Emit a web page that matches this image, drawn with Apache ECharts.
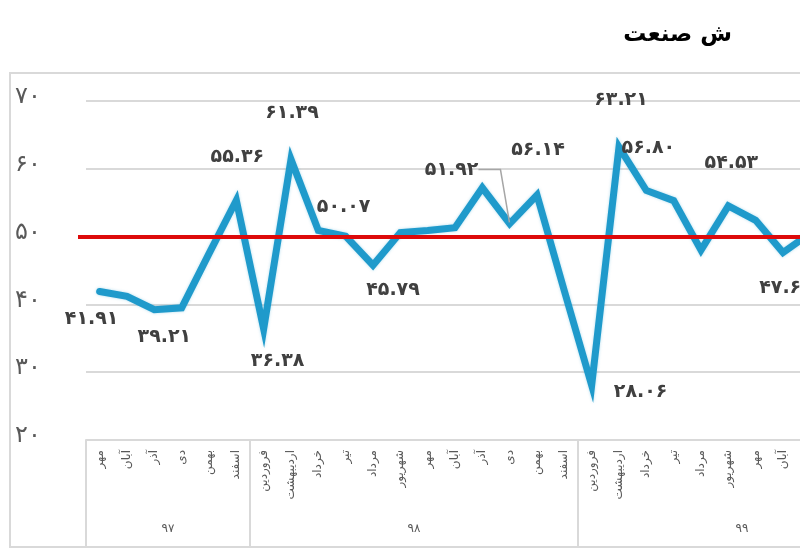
<!DOCTYPE html>
<html><head><meta charset="utf-8">
<script src="https://cdn.jsdelivr.net/npm/echarts@6/dist/echarts.min.js"></script>
<style>html,body{margin:0;padding:0;background:#fff}#c{width:800px;height:557px}</style>
</head><body><div id="c"></div>
<script>
// ---- data ----
const months97 = ['مهر','آبان','آذر','دی','بهمن','اسفند'];
const months98 = ['فروردین','اردیبهشت','خرداد','تیر','مرداد','شهریور','مهر','آبان','آذر','دی','بهمن','اسفند'];
const months99 = ['فروردین','اردیبهشت','خرداد','تیر','مرداد','شهریور','مهر','آبان','آذر','دی','بهمن','اسفند'];
const yearLabels = ['۹۷','۹۸','۹۹'];
const pmiValues = [41.91, 41.2, 39.21, 39.5, 47.5, 55.36,
  36.38, 61.39, 50.9, 50.07, 45.79, 50.6, 50.9, 51.3, 57.2, 51.92, 56.14, 42.0,
  28.06, 63.21, 56.80, 55.3, 48.0, 54.53, 52.4, 47.65, 50.5];
const labelledIdx = [0, 2, 5, 6, 7, 9, 10, 15, 16, 18, 19, 20, 23, 25];
const threshold = 50;
const yMin = 20, yMax = 70, yStep = 10;
const titleText = 'ش صنعت';

// ---- helpers / styles ----
const toFa = s => String(s).replace(/[0-9]/g, d => '۰۱۲۳۴۵۶۷۸۹'[+d]);
const categories = months97.concat(months98, months99);
const groups = [months97.length, months98.length, months99.length];
const groupCenters = [];
{ let acc = 0; groups.forEach(n => { groupCenters.push(acc + n / 2); acc += n; }); }
const groupBounds = [];
{ let acc = 0; groups.forEach(n => { groupBounds.push(acc); acc += n; }); }

const labelPlace = {0:[-8,28],2:[10,27],5:[1,-43],6:[14,32],7:[1,-46],9:[-2,-29],10:[20,25],
  15:[-58,-54],16:[1,-45],18:[49,7],19:[2,-47],20:[2,-42],23:[3,-43],25:[3,36]};

const FONT = 'DejaVu Sans';
const gridCol = '#d9d9d9';
const blue = '#1f9acb';
const red = '#dd0a0a';

const lineData = pmiValues.map((v, i) => {
  if (labelledIdx.indexOf(i) >= 0) {
    const item = { value: v, label: { show: true } };
    if (i === 15) item.labelLine = { show: true, length2: 22, lineStyle: { color: '#a6a6a6', width: 1.5 } };
    return item;
  }
  return v;
});

const chart = echarts.init(document.getElementById('c'), null, { renderer: 'canvas' });
chart.setOption({
  animation: false,
  backgroundColor: '#fff',
  title: {
    text: titleText, right: 63, top: 19,
    textStyle: { fontFamily: FONT, fontSize: 23, fontWeight: 'bold', color: '#000' }
  },
  graphic: [{
    type: 'rect', z: -10, silent: true,
    shape: { x: 10, y: 73, width: 1000, height: 474 },
    style: { fill: 'none', stroke: gridCol, lineWidth: 2 }
  }],
  grid: { left: 86, top: 101, width: 820, height: 339, outerBoundsMode: 'none' },
  xAxis: [{
    type: 'category', data: categories, boundaryGap: true,
    axisLine: { show: true, lineStyle: { color: gridCol, width: 2 } },
    axisTick: { show: true, interval: (i) => groupBounds.indexOf(i) >= 0, length: 107,
      lineStyle: { color: gridCol, width: 2 } },
    axisLabel: { interval: 0, rotate: 90, margin: 10, color: '#595959', fontFamily: FONT, fontSize: 12 },
    splitLine: { show: false }
  }, {
    type: 'value', position: 'bottom', min: 0, max: categories.length, interval: 3,
    axisLine: { show: false }, axisTick: { show: false }, splitLine: { show: false },
    axisLabel: {
      margin: 83, color: '#595959', fontFamily: FONT, fontSize: 12,
      showMinLabel: true, showMaxLabel: true,
      formatter: v => { const k = groupCenters.indexOf(v); return k >= 0 ? yearLabels[k] : ''; }
    }
  }],
  yAxis: {
    type: 'value', min: yMin, max: yMax, interval: yStep,
    axisLine: { show: false }, axisTick: { show: false },
    splitLine: { show: true, lineStyle: { color: gridCol, width: 2 } },
    axisLabel: { align: 'left', verticalAlign: 'bottom', lineHeight: 8, margin: 71, color: '#595959',
      fontFamily: FONT, fontSize: 24, formatter: v => toFa(v) }
  },
  series: [{
    type: 'line', data: lineData, xAxisIndex: 0, z: 3,
    symbol: 'circle', symbolSize: 2, showSymbol: true,
    itemStyle: { color: blue },
    lineStyle: { color: blue, width: 7, join: 'miter', cap: 'round',
      shadowColor: 'rgba(31,154,203,0.35)', shadowBlur: 3 },
    label: { show: false, position: 'inside', color: '#404040', fontFamily: FONT, fontSize: 19,
      fontWeight: 'bold', formatter: p => toFa(p.value.toFixed(2)) },
    labelLayout: p => { const o = labelPlace[p.dataIndex]; return o ? { dx: o[0], dy: o[1] } : {}; },
    emphasis: { disabled: true }
  }, {
    type: 'line', data: [], xAxisIndex: 0, z: 4,
    markLine: {
      silent: true, symbol: 'none', label: { show: false },
      lineStyle: { color: red, width: 4, type: 'solid' },
      data: [[{ yAxis: threshold, x: 78 }, { yAxis: threshold, x: 1000 }]]
    }
  }]
});
</script></body></html>
